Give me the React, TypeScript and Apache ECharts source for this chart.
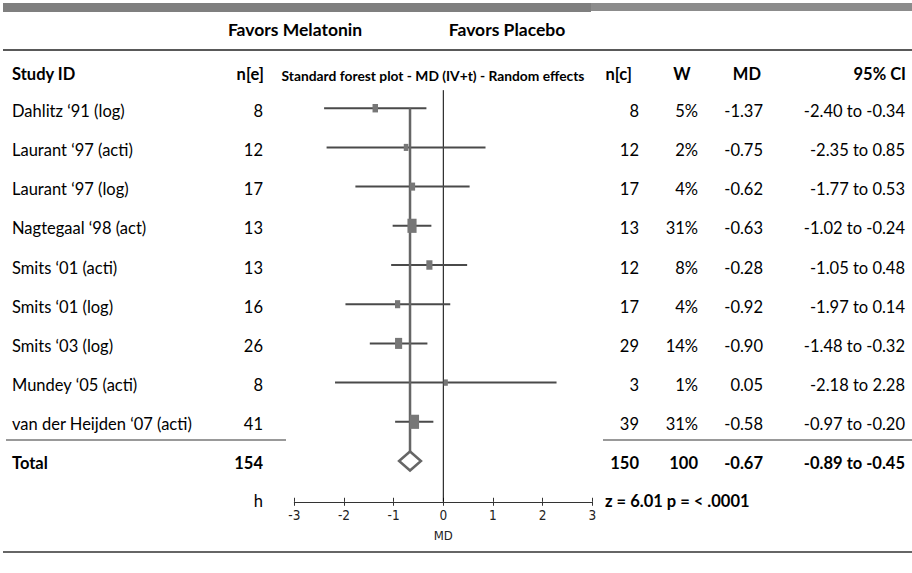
import React, { useEffect, useRef } from "react";
import * as echarts from "echarts";

const studies = [
  "Dahlitz \u201891 (log)",
  "Laurant \u201897 (acti)",
  "Laurant \u201897 (log)",
  "Nagtegaal \u201898 (act)",
  "Smits \u201801 (acti)",
  "Smits \u201801 (log)",
  "Smits \u201803 (log)",
  "Mundey \u201805 (acti)",
  "van der Heijden \u201807 (acti)",
];
const nE = [8, 12, 17, 13, 13, 16, 26, 8, 41];
const nC = [8, 12, 17, 13, 12, 17, 29, 3, 39];
const weights = [5, 2, 4, 31, 8, 4, 14, 1, 31];
const md = [-1.37, -0.75, -0.62, -0.63, -0.28, -0.92, -0.9, 0.05, -0.58];
const ciLow = [-2.4, -2.35, -1.77, -1.02, -1.05, -1.97, -1.48, -2.18, -0.97];
const ciHigh = [-0.34, 0.85, 0.53, -0.24, 0.48, 0.14, -0.32, 2.28, -0.2];

const totalNE = 154;
const totalNC = 150;
const totalW = "100";
const totalMD = -0.67;
const totalLow = -0.89;
const totalHigh = -0.45;
const zText = "z = 6.01 p = < .0001";

const xTicks = [-3, -2, -1, 0, 1, 2, 3];

const FONT = "Lato, 'Open Sans', sans-serif";
const BODY = 16.5;
const ROW0 = 108.2;
const PITCH = 39.2;
const Y_MIN = -0.46;
const Y_MAX = 10.04;
const rowY = (i: number) => ROW0 + i * PITCH;

function txt(text: string, x: number, y: number, align: string, bold = false, size = BODY) {
  return {
    type: "text",
    x,
    y,
    silent: true,
    style: {
      text,
      fill: "#000",
      font: `${bold ? "bold " : ""}${size}px ${FONT}`,
      textAlign: align,
      textVerticalAlign: "middle",
    },
  };
}

export default function App() {
  const ref = useRef<HTMLDivElement>(null);
  useEffect(() => {
    if (!ref.current) return;
    const chart = echarts.init(ref.current, null, { renderer: "svg" });

    const studyData = studies.map((_, i) => [i, md[i], ciLow[i], ciHigh[i], weights[i]]);

    const graphics: any[] = [];
    // top bar
    graphics.push({ type: "rect", shape: { x: 3, y: 3, width: 588, height: 9 }, style: { fill: "#7f7f7f" } });
    graphics.push({ type: "rect", shape: { x: 591, y: 3, width: 321, height: 8 }, style: { fill: "#8c8c8c" } });
    // lines
    graphics.push({ type: "line", shape: { x1: 3, y1: 50, x2: 912, y2: 50 }, style: { stroke: "#222", lineWidth: 1.5 } });
    graphics.push({ type: "line", shape: { x1: 6, y1: 440, x2: 286, y2: 440 }, style: { stroke: "#777", lineWidth: 1.5 } });
    graphics.push({ type: "line", shape: { x1: 603, y1: 440, x2: 912, y2: 440 }, style: { stroke: "#777", lineWidth: 1.5 } });
    graphics.push({ type: "line", shape: { x1: 3, y1: 552, x2: 912, y2: 552 }, style: { stroke: "#666", lineWidth: 2 } });

    // favors
    graphics.push(txt("Favors Melatonin", 295, 29, "center", true, 17.5));
    graphics.push(txt("Favors Placebo", 507, 29, "center", true, 17.5));
    // headers
    const hy = 74;
    graphics.push(txt("Study ID", 12, hy, "left", true));
    graphics.push(txt("n[e]", 264, hy, "right", true));
    graphics.push(txt("Standard forest plot - MD (IV+t) - Random effects", 433, hy + 1, "center", true, 13.8));
    graphics.push(txt("n[c]", 632, hy, "right", true));
    graphics.push(txt("W", 682, hy, "center", true));
    graphics.push(txt("MD", 761, hy, "right", true));
    graphics.push(txt("95% CI", 906, hy, "right", true));

    studies.forEach((s, i) => {
      const y = rowY(i) + 2.5;
      graphics.push(txt(s, 12, y, "left"));
      graphics.push(txt(String(nE[i]), 263, y, "right"));
      graphics.push(txt(String(nC[i]), 639, y, "right"));
      graphics.push(txt(`${weights[i]}%`, 698, y, "right"));
      graphics.push(txt(md[i].toFixed(2), 763, y, "right"));
      graphics.push(txt(`${ciLow[i].toFixed(2)} to ${ciHigh[i].toFixed(2)}`, 905, y, "right"));
    });
    const ty = rowY(9) + 2;
    graphics.push(txt("Total", 12, ty, "left", true));
    graphics.push(txt(String(totalNE), 263, ty, "right", true));
    graphics.push(txt(String(totalNC), 639, ty, "right", true));
    graphics.push(txt(totalW, 698, ty, "right", true));
    graphics.push(txt(totalMD.toFixed(2), 763, ty, "right", true));
    graphics.push(txt(`${totalLow.toFixed(2)} to ${totalHigh.toFixed(2)}`, 905, ty, "right", true));

    const ay = rowY(Y_MAX) - 1;
    graphics.push(txt("h", 263, ay, "right"));
    graphics.push(txt(zText, 605, ay, "left", true));

    const axisCommon = {
      type: "value" as const,
      min: -3,
      max: 3,
      interval: 1,
      position: "bottom" as const,
      splitLine: { show: false },
    };
    const narrow = "'Liberation Sans Narrow', 'DejaVu Sans Condensed', 'Liberation Sans', sans-serif";

    chart.setOption({
      animation: false,
      grid: {
        left: 294.3,
        width: 298,
        top: rowY(Y_MIN),
        height: (Y_MAX - Y_MIN) * PITCH,
        containLabel: false,
      },
      xAxis: [
        {
          ...axisCommon,
          axisLine: { show: true, onZero: false, lineStyle: { color: "#333", width: 1 } },
          axisTick: { show: true, inside: false, length: 4, lineStyle: { color: "#333" } },
          axisLabel: {
            show: true,
            margin: 6,
            fontSize: 13.5,
            fontFamily: narrow,
            color: "#222",
            formatter: (v: number) => String(v),
          },
          data: xTicks,
          name: "MD",
          nameLocation: "middle",
          nameGap: 27,
          nameTextStyle: { fontSize: 13, fontFamily: narrow, color: "#222" },
        },
        {
          ...axisCommon,
          axisLine: { show: false, onZero: false },
          axisTick: { show: true, inside: true, length: 4, lineStyle: { color: "#333" } },
          axisLabel: { show: false },
        },
      ],
      yAxis: {
        type: "value",
        inverse: true,
        min: Y_MIN,
        max: Y_MAX,
        show: false,
      },
      series: [
        {
          type: "line",
          z: 1,
          symbol: "none",
          data: [
            [0, Y_MIN],
            [0, Y_MAX],
          ],
          lineStyle: { color: "#000", width: 1 },
          silent: true,
        },
        {
          type: "custom",
          z: 2,
          data: studyData,
          renderItem: (params: any, api: any) => {
            const i = api.value(0);
            const pL = api.coord([api.value(2), i]);
            const pH = api.coord([api.value(3), i]);
            return {
              type: "line",
              shape: { x1: pL[0], y1: pL[1], x2: pH[0], y2: pH[1] },
              style: { stroke: "#4a4a4a", lineWidth: 2 },
            };
          },
          silent: true,
        },
        {
          type: "line",
          z: 3,
          symbol: "none",
          data: [
            [totalMD, 0],
            [totalMD, 9 - 0.24],
          ],
          lineStyle: { color: "#666", width: 2.5 },
          silent: true,
        },
        {
          type: "custom",
          z: 4,
          data: studyData,
          renderItem: (params: any, api: any) => {
            const i = api.value(0);
            const p = api.coord([api.value(1), i]);
            const w = api.value(4);
            const sw = 3 + 1.1 * Math.sqrt(w);
            const sh = sw * 1.55;
            return {
              type: "rect",
              shape: { x: p[0] - sw / 2, y: p[1] - sh / 2, width: sw, height: sh },
              style: { fill: "#777" },
            };
          },
          silent: true,
        },
        {
          type: "custom",
          z: 5,
          data: [[9, totalMD, totalLow, totalHigh]],
          renderItem: (params: any, api: any) => {
            const i = api.value(0);
            const pm = api.coord([api.value(1), i]);
            const pl = api.coord([api.value(2), i]);
            const ph = api.coord([api.value(3), i]);
            const hh = 9.5;
            return {
              type: "polygon",
              shape: {
                points: [
                  [pl[0], pm[1]],
                  [pm[0], pm[1] - hh],
                  [ph[0], pm[1]],
                  [pm[0], pm[1] + hh],
                ],
              },
              style: { fill: "#fff", stroke: "#666", lineWidth: 2.5 },
            };
          },
          silent: true,
        },
      ],
      graphic: graphics,
    });

    return () => chart.dispose();
  }, []);

  return <div ref={ref} style={{ width: 912, height: 573, position: "absolute", left: 0, top: 0 }} />;
}
